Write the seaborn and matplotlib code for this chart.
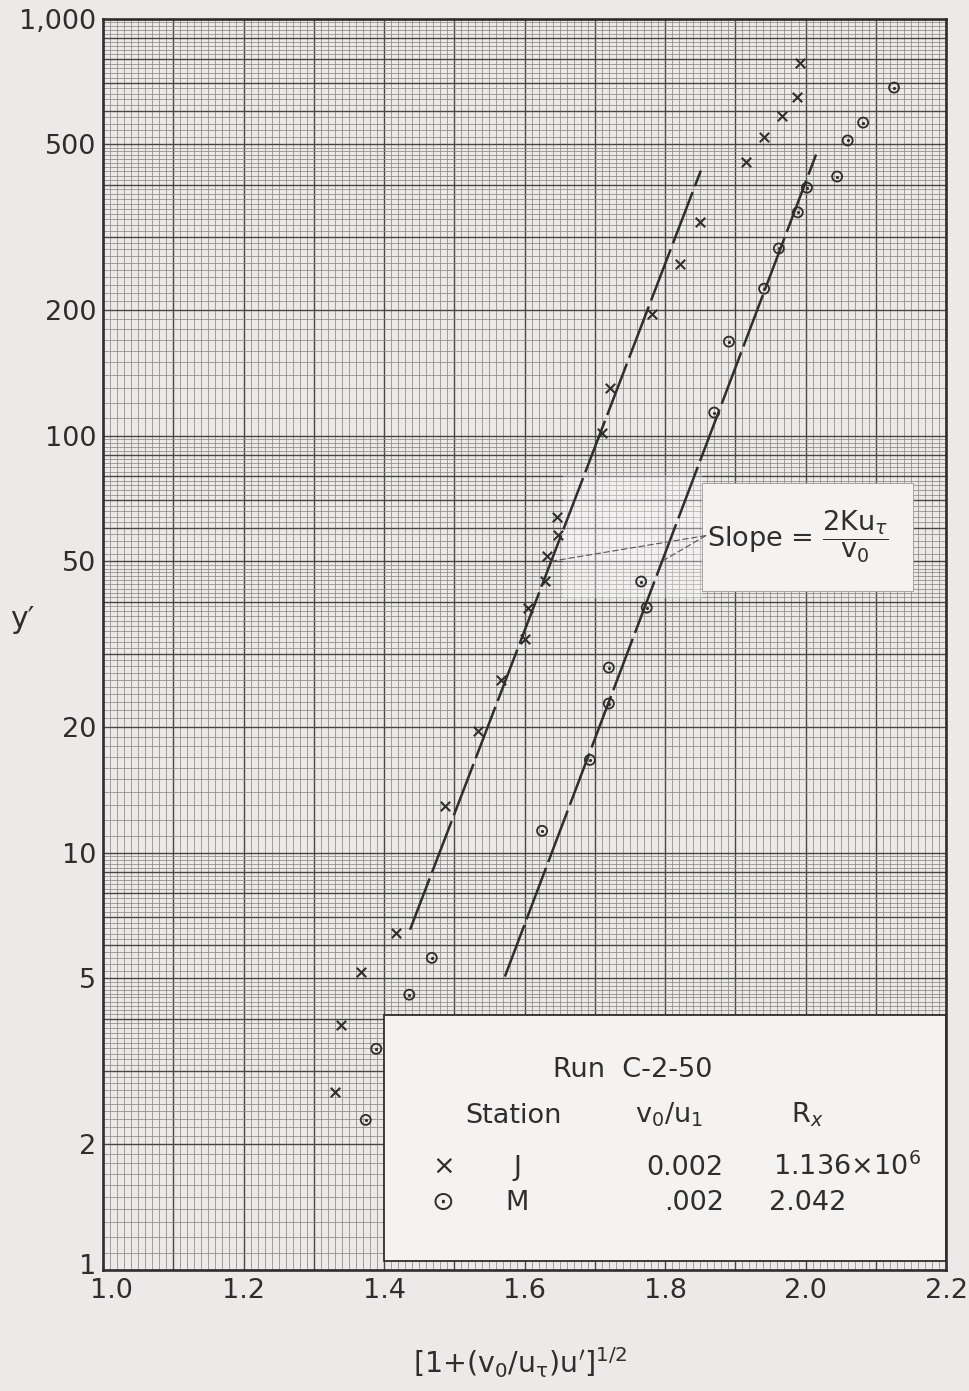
import numpy as np
import pandas as pd
import matplotlib
matplotlib.use("Agg")
import matplotlib.pyplot as plt
import matplotlib.transforms as mtransforms
import seaborn as sns
from matplotlib.ticker import FixedLocator, FuncFormatter, NullFormatter
from matplotlib.patches import Rectangle

# ---- data -------------------------------------------------------------
# Station J (x marks)
j_x = [1.330, 1.339, 1.367, 1.417, 1.487, 1.534, 1.567, 1.601, 1.605, 1.629,
       1.632, 1.648, 1.646, 1.710, 1.722, 1.781, 1.821, 1.850, 1.915, 1.941,
       1.967, 1.988, 1.992]
j_y = [2.67, 3.87, 5.18, 6.43, 12.96, 19.6, 25.9, 32.6, 38.7, 44.9,
       51.6, 57.9, 63.9, 101.7, 130.3, 196.2, 258.5, 326, 454, 521,
       585, 650, 784]

# Station M (circle-dot marks)
m_x = [1.374, 1.389, 1.436, 1.468, 1.625, 1.693, 1.720, 1.720, 1.774, 1.766,
       1.870, 1.891, 1.941, 1.962, 1.989, 2.002, 2.045, 2.060, 2.082, 2.126]
m_y = [2.29, 3.39, 4.57, 5.60, 11.29, 16.7, 22.8, 27.8, 38.7, 44.7,
       113.6, 168, 225, 281, 343, 393, 418, 510, 563, 683]

# Straight-line fits through the log-linear region of each station
j_fit_x = [1.437, 1.851]
j_fit_y = [6.54, 432.0]
m_fit_x = [1.572, 2.015]
m_fit_y = [5.05, 472.0]

x_ticks = [1.0, 1.2, 1.4, 1.6, 1.8, 2.0, 2.2]
x_tick_labels = ["1.0", "1.2", "1.4", "1.6", "1.8", "2.0", "2.2"]
y_ticks = [1, 2, 5, 10, 20, 50, 100, 200, 500, 1000]
y_tick_labels = ["1", "2", "5", "10", "20", "50", "100", "200", "500", "1,000"]

run_name = "Run  C-2-50"
stations = ["J", "M"]
station_marks = ["\u00d7", "\u2299"]
velocity_ratio = ["0.002", ".002"]
reynolds = [r"1.136$\times$10$^{6}$", "2.042"]
slope_y = 50  # leader lines meet the fits at this y'

# ---- style ------------------------------------------------------------
sns.set_theme(style="white")
plt.rcParams["font.family"] = ["DejaVu Sans"]
plt.rcParams["mathtext.fontset"] = "dejavusans"

paper = "#ece9e8"
blank = "#f5f3f2"
ink = "#2e2e2e"
FS = 19.5

fig = plt.figure(figsize=(9.69, 13.91), dpi=100, facecolor=paper)
ax = fig.add_axes([0.1063, 0.0870, 0.8700, 0.8997])
ax.set_facecolor(paper)
ax.set_yscale("log")
ax.set_xlim(1.0, 2.2)
ax.set_ylim(1, 1000)

# ---- graph-paper ruling -------------------------------------------------
major_y = sorted({k * 10 ** n for n in range(3) for k in range(1, 10)} | {1000})
minor_y = []
for n in range(3):
    d = 10 ** n
    for v in np.arange(1.1, 5.0, 0.1):
        if abs(v - round(v)) > 1e-6:
            minor_y.append(v * d)
    for v in np.arange(5.2, 10.0, 0.2):
        if abs(v - round(v)) > 1e-6:
            minor_y.append(v * d)
major_x = np.round(np.arange(1.0, 2.2001, 0.1), 2)
minor_x = [v for v in np.round(np.arange(1.0, 2.2001, 0.01), 2)
           if abs(v * 10 - round(v * 10)) > 1e-6]

ax.yaxis.set_major_locator(FixedLocator(major_y))
ax.yaxis.set_minor_locator(FixedLocator(minor_y))
ax.xaxis.set_major_locator(FixedLocator(major_x))
ax.xaxis.set_minor_locator(FixedLocator(minor_x))

ylab = dict(zip(y_ticks, y_tick_labels))
xlab = dict(zip(x_ticks, x_tick_labels))
ax.yaxis.set_major_formatter(FuncFormatter(
    lambda v, p: next((l for t, l in ylab.items() if abs(v - t) < 1e-6 * t), "")))
ax.xaxis.set_major_formatter(FuncFormatter(
    lambda v, p: next((l for t, l in xlab.items() if abs(v - t) < 1e-6), "")))
ax.yaxis.set_minor_formatter(NullFormatter())
ax.xaxis.set_minor_formatter(NullFormatter())

ax.grid(which="major", color="#474747", linewidth=1.0)
ax.grid(which="minor", color="#8a8a8a", linewidth=0.55)
ax.set_axisbelow(True)
ax.tick_params(which="both", length=0)
ax.tick_params(axis="y", pad=5, labelsize=FS, labelcolor=ink)
ax.tick_params(axis="x", pad=6, labelsize=FS, labelcolor=ink)
for s in ax.spines.values():
    s.set_color(ink)
    s.set_linewidth(1.9)

# ---- data marks ---------------------------------------------------------
pts_j = pd.DataFrame({"x": j_x, "y": j_y})
pts_m = pd.DataFrame({"x": m_x, "y": m_y})

sns.scatterplot(data=pts_j, x="x", y="y", marker="x", s=46, color=ink,
                linewidth=1.5, ax=ax, zorder=4)
sns.scatterplot(data=pts_m, x="x", y="y", marker="o", s=52, color=ink,
                linewidth=1.3, ax=ax, zorder=4)
ax.collections[-1].set_facecolor("none")
ax.collections[-1].set_edgecolor(ink)
sns.scatterplot(data=pts_m, x="x", y="y", marker="o", s=5, color=ink,
                linewidth=0, ax=ax, zorder=4)

fit_style = dict(color=ink, linewidth=1.8, linestyle=(0, (22, 2.5)), zorder=3)
sns.lineplot(x=j_fit_x, y=j_fit_y, ax=ax, **fit_style)
sns.lineplot(x=m_fit_x, y=m_fit_y, ax=ax, **fit_style)


def x_on_fit(fx, fy, yv):
    t = (np.log10(yv) - np.log10(fy[0])) / (np.log10(fy[1]) - np.log10(fy[0]))
    return fx[0] + t * (fx[1] - fx[0])


# ---- slope note -----------------------------------------------------------
ax.add_patch(Rectangle((1.655, 40.9), 0.198, 39.7, facecolor="white",
                       alpha=0.35, edgecolor="none", zorder=1))
ax.add_patch(Rectangle((1.853, 42.5), 0.300, 34.6, facecolor=blank,
                       edgecolor="#9a9a9a", linewidth=0.6, zorder=2))
ax.text(1.860, 57.2, r"Slope = $\dfrac{\mathrm{2Ku}_{\tau}}{\mathrm{v}_{0}}$",
        fontsize=FS, color=ink, ha="left", va="center", zorder=5)
for fx, fy in [(j_fit_x, j_fit_y), (m_fit_x, m_fit_y)]:
    ax.annotate("", xy=(x_on_fit(fx, fy, slope_y), slope_y), xytext=(1.858, 57.6),
                arrowprops=dict(arrowstyle="-", linestyle=(0, (5, 3)),
                                color="#555555", linewidth=0.8,
                                shrinkA=0, shrinkB=0), zorder=5)

# ---- key box ------------------------------------------------------------
ax.add_patch(Rectangle((1.400, 1.05), 0.800, 3.04, facecolor=blank,
                       edgecolor=ink, linewidth=1.3, zorder=2))
T = ax.transAxes
kw = dict(transform=T, fontsize=FS, color=ink, zorder=5)
ax.text(0.628, 0.1598, run_name, ha="center", va="center", **kw)
ax.text(0.430, 0.1175, "Station", ha="left", va="baseline", **kw)
ax.text(0.6316, 0.1175, r"$\mathrm{v}_{0}/\mathrm{u}_{1}$", ha="left",
        va="baseline", **kw)
ax.text(0.8165, 0.1175, r"$\mathrm{R}_{x}$", ha="left", va="baseline", **kw)
row_y = [0.0759, 0.0479]
for i, yb in enumerate(row_y):
    ax.text(0.4035, yb, station_marks[i], ha="center", va="baseline", **kw)
    ax.text(0.491, yb, stations[i], ha="center", va="baseline", **kw)
    ax.text(0.7363, yb, velocity_ratio[i], ha="right", va="baseline", **kw)
    ax.text(0.7943 if i == 0 else 0.7898, yb, reynolds[i], ha="left",
            va="baseline", **kw)

# ---- axis labels ----------------------------------------------------------
ax.set_xlabel(r"$\left[\mathrm{1{+}(v_{0}/u_{\tau})u^{\prime}}\right]^{\mathrm{1/2}}$",
              fontsize=FS + 1, color=ink)
ax.xaxis.set_label_coords(0.495, -0.060)
ax.set_ylabel("y\u2032", fontsize=FS + 2, color=ink, rotation=0, va="center")
ax.yaxis.set_label_coords(-0.096, 0.52)

# keep the corner labels apart: nudge "1.0" right and "1" up
fig.canvas.draw()
ax.get_xticklabels()[0].set_transform(
    ax.get_xticklabels()[0].get_transform()
    + mtransforms.ScaledTranslation(8 / 100, 0, fig.dpi_scale_trans))
ax.get_yticklabels()[0].set_transform(
    ax.get_yticklabels()[0].get_transform()
    + mtransforms.ScaledTranslation(0, 6 / 100, fig.dpi_scale_trans))

fig.savefig("out.png", dpi=100, facecolor=paper)
